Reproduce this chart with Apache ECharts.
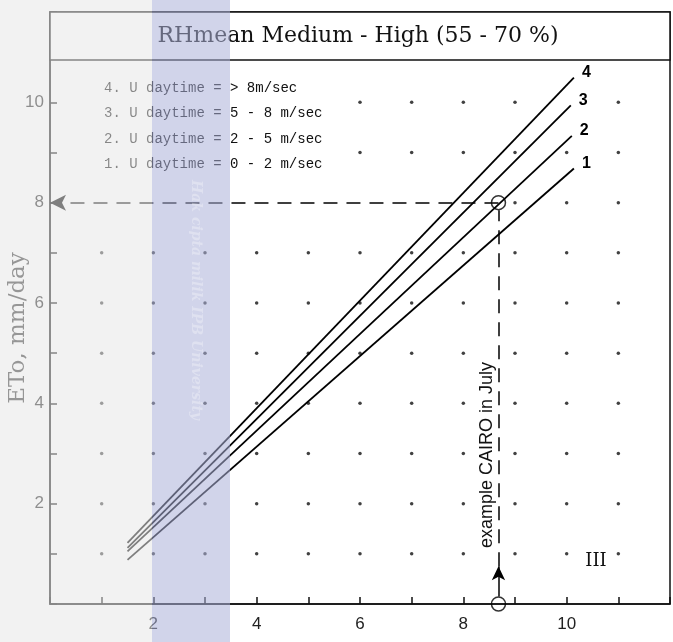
<!DOCTYPE html>
<html>
<head>
<meta charset="utf-8">
<script src="https://cdn.jsdelivr.net/npm/echarts@6/dist/echarts.min.js"></script>
<style>
html,body{margin:0;padding:0;background:#fff;}
#chart{width:673px;height:642px;}
</style>
</head>
<body>
<div id="chart"></div>
<script>
// ---- data ----
const titleText = 'RHmean Medium - High (55 - 70 %)';
const yAxisTitle = 'ETo, mm/day';
const xTickLabels = [2, 4, 6, 8, 10];
const yTickLabels = [2, 4, 6, 8, 10];
const curveNames = ['1', '2', '3', '4'];
const windLegend = [
  '4. U daytime = > 8m/sec',
  '3. U daytime = 5 - 8 m/sec',
  '2. U daytime = 2 - 5 m/sec',
  '1. U daytime = 0 - 2 m/sec'
];
const curve1 = [[1.5, 0.88], [10.14, 8.68]];
const curve2 = [[1.5, 1.05], [10.1, 9.33]];
const curve3 = [[1.5, 1.12], [10.08, 9.94]];
const curve4 = [[1.5, 1.22], [10.14, 10.49]];
const exampleX = 8.68;
const exampleY = 8.0;
const exampleText = 'example CAIRO in July';
const regionMark = 'III';
const dotCols = [1, 2, 3, 4, 5, 6, 7, 8, 9, 10, 11];
const dotRows = [1, 2, 3, 4, 5, 6, 7, 8, 9, 10];
const watermark = 'Hak cipta milik IPB University';

// ---- build ----
const curves = [curve1, curve2, curve3, curve4];
const dots = [];
dotRows.forEach(r => dotCols.forEach(c => {
  if (r >= 9 && c <= 5) return;          // hidden under legend text
  if (r === 8 && c <= 8) return;         // under dashed guide
  if (r === 10 && c === 10) return;
  dots.push([c, r]);
}));

const chart = echarts.init(document.getElementById('chart'), null, {renderer: 'canvas'});
const gridL = 50, gridR = 3, gridT = 12, gridB = 38;
const W = 673, H = 642;

const option = {
  backgroundColor: '#ffffff',
  animation: false,
  grid: {left: gridL, right: gridR, top: gridT, bottom: gridB, show: true,
         borderColor: '#111', borderWidth: 1.5, backgroundColor: 'transparent'},
  xAxis: {
    type: 'value', min: 0, max: 12, interval: 1,
    axisLine: {lineStyle: {color: '#111', width: 1.5}},
    axisTick: {inside: true, length: 7, lineStyle: {color: '#111', width: 1.5}},
    axisLabel: {
      margin: 12, color: '#222', fontSize: 17, fontFamily: 'Liberation Sans',
      formatter: v => xTickLabels.includes(v) ? String(v) : ''
    },
    splitLine: {show: false}
  },
  yAxis: {
    type: 'value', min: 0, max: 11.8, interval: 1,
    axisLine: {lineStyle: {color: '#111', width: 1.5}},
    axisTick: {inside: true, length: 7, lineStyle: {color: '#111', width: 1.5}},
    axisLabel: {
      margin: 6, color: '#222', fontSize: 17, fontFamily: 'Liberation Sans',
      formatter: v => yTickLabels.includes(v) ? String(v) : ''
    },
    splitLine: {show: false}
  },
  series: [
    {
      type: 'scatter', data: dots, symbol: 'circle', symbolSize: 3.5,
      itemStyle: {color: '#111'}, silent: true, z: 1
    },
    ...curves.map((c, i) => ({
      type: 'line', name: curveNames[i], data: c, showSymbol: false,
      lineStyle: {color: '#000', width: 1.8},
      endLabel: {show: true, formatter: '{a}', color: '#000', fontSize: 16,
                 fontWeight: 'bold', fontFamily: 'Liberation Sans', distance: 8, offset: [0, -5]},
      z: 3
    })),
    {
      type: 'scatter', name: 'example',
      data: [[exampleX, exampleY], [exampleX, 0]],
      symbol: 'circle', symbolSize: 14,
      itemStyle: {color: 'rgba(255,255,255,0)', borderColor: '#000', borderWidth: 1.5},
      z: 4,
      markLine: {
        silent: true, animation: false,
        label: {show: false},
        lineStyle: {color: '#000', width: 1.5, type: [14, 9]},
        data: [
          [{coord: [exampleX, exampleY], symbol: 'none'}, {coord: [0, exampleY], symbol: 'arrow', symbolSize: [12, 16]}],
          [{coord: [exampleX, 0.75], symbol: 'none'}, {coord: [exampleX, exampleY - 0.15], symbol: 'none'}],
          [{coord: [exampleX, 0.15], symbol: 'none', lineStyle: {type: 'solid'}},
           {coord: [exampleX, 0.75], symbol: 'arrow', symbolSize: [10, 14], lineStyle: {type: 'solid'}}]
        ]
      }
    }
  ],
  graphic: [
    // title box
    {type: 'rect', z: 50, shape: {x: gridL, y: gridT, width: W - gridL - gridR, height: 48},
     style: {fill: '#fff', stroke: '#111', lineWidth: 1.5}},
    {type: 'text', z: 51, x: (gridL + W - gridR) / 2 - 2, y: gridT + 24,
     style: {text: titleText, fontFamily: 'DejaVu Serif', fontSize: 22, fill: '#111',
             textAlign: 'center', textVerticalAlign: 'middle'}},
    // wind legend
    ...windLegend.map((t, i) => ({
      type: 'text', z: 51, x: 104, y: 88 + i * 25.5,
      style: {text: t, fontFamily: 'Liberation Mono', fontSize: 14, fill: '#111',
              textAlign: 'left', textVerticalAlign: 'middle'}
    })),
    // example annotation
    {type: 'text', z: 51, x: 487, y: 455, rotation: Math.PI / 2,
     style: {text: exampleText, fontFamily: 'Liberation Sans', fontSize: 18, fill: '#111',
             textAlign: 'center', textVerticalAlign: 'middle'}},
    {type: 'text', z: 51, x: 596, y: 561,
     style: {text: regionMark, fontFamily: 'DejaVu Serif', fontSize: 18, fill: '#111',
             textAlign: 'center', textVerticalAlign: 'middle'}},
    // y axis title
    {type: 'text', z: 51, x: 18, y: 328, rotation: Math.PI / 2,
     style: {text: yAxisTitle, fontFamily: 'DejaVu Serif', fontSize: 23, fill: '#333',
             textAlign: 'center', textVerticalAlign: 'middle'}},
    // scan shading on the left
    {type: 'rect', z: 90, shape: {x: 0, y: 0, width: 152, height: H},
     style: {fill: 'rgba(232,232,232,0.55)'}},
    // watermark band
    {type: 'rect', z: 91, shape: {x: 152, y: 0, width: 78, height: H},
     style: {fill: 'rgba(172,176,217,0.55)'}},
    {type: 'text', z: 92, x: 196, y: 300, rotation: -Math.PI / 2,
     style: {text: watermark, fontFamily: 'DejaVu Serif', fontSize: 14, fontStyle: 'italic',
             fontWeight: 'bold', fill: 'rgba(255,255,255,0.3)',
             textAlign: 'center', textVerticalAlign: 'middle'}}
  ]
};
chart.setOption(option);
</script>
</body>
</html>
